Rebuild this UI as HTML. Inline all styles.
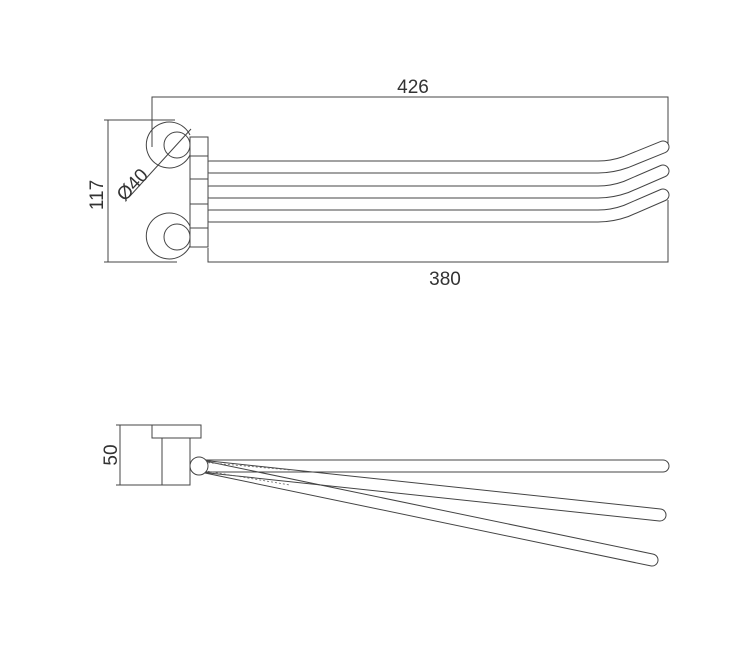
<!DOCTYPE html><html><head><style>body{margin:0;background:#fff}svg{display:block}text{font-family:"Liberation Sans",sans-serif;fill:#333}</style></head><body>
<svg width="744" height="651" viewBox="0 0 744 651" xmlns="http://www.w3.org/2000/svg">
<g fill="none" stroke="#444" stroke-width="1">
<path d="M152 147V97H668V150M668 200V262H208V248M108 120V262M104 120H175M104 262H177"/>
<line x1="130" y1="196" x2="191" y2="129"/>
<path d="M190 135A23 23 0 1 0 190 155"/>
<circle cx="177" cy="145" r="13"/>
<path d="M190 226A23 23 0 1 0 190 246"/>
<circle cx="177" cy="237" r="13"/>
</g>
<g fill="none" stroke-linecap="round" stroke-linejoin="round">
<g stroke="#444" stroke-width="13">
<path d="M210 167H598Q612 167 626 162L663 147"/>
<path d="M210 192H598Q612 192 626 187L663 171"/>
<path d="M210 216H598Q612 216 626 211L663 195"/>
</g>
<g stroke="#fff" stroke-width="11">
<path d="M206 167H598Q612 167 626 162L663 147"/>
<path d="M206 192H598Q612 192 626 187L663 171"/>
<path d="M206 216H598Q612 216 626 211L663 195"/>
</g>
</g>
<g fill="#fff" stroke="#444" stroke-width="1">
<rect x="190" y="137" width="18" height="110"/>
<path d="M190 156H208M190 179H208M190 204H208M190 228H208" fill="none"/>
</g>
<!-- side view -->
<g fill="none" stroke="#444" stroke-width="1">
<path d="M120 425V485M116 425H152M116 485H162"/>
<rect x="152" y="425" width="49" height="13"/>
<path d="M162 438V485H190V438"/>
<path d="M205 460H663A6 6 0 0 1 663 472H205"/>
<path d="M205 460.5L660.6 509A6 6 0 0 1 659.4 521L205 472.6"/>
<path d="M205 461L653.2 554.1A6 6 0 0 1 650.8 565.9L205 473"/>
</g>
<g fill="none" stroke="#666" stroke-width="0.8" stroke-dasharray="2 2">
<path d="M200 462L290 470M200 470L290 485"/>
</g>
<circle cx="199" cy="466" r="9" fill="#fff" stroke="#444"/>
<text x="413" y="93" font-size="19" text-anchor="middle">426</text>
<text x="445" y="285" font-size="19" text-anchor="middle">380</text>
<text transform="translate(103,195) rotate(-90)" font-size="19" text-anchor="middle">117</text>
<text transform="translate(137,189) rotate(-47)" font-size="19" text-anchor="middle">Ø40</text>
<text transform="translate(117,455) rotate(-90)" font-size="19" text-anchor="middle">50</text>
</svg>
</body></html>
